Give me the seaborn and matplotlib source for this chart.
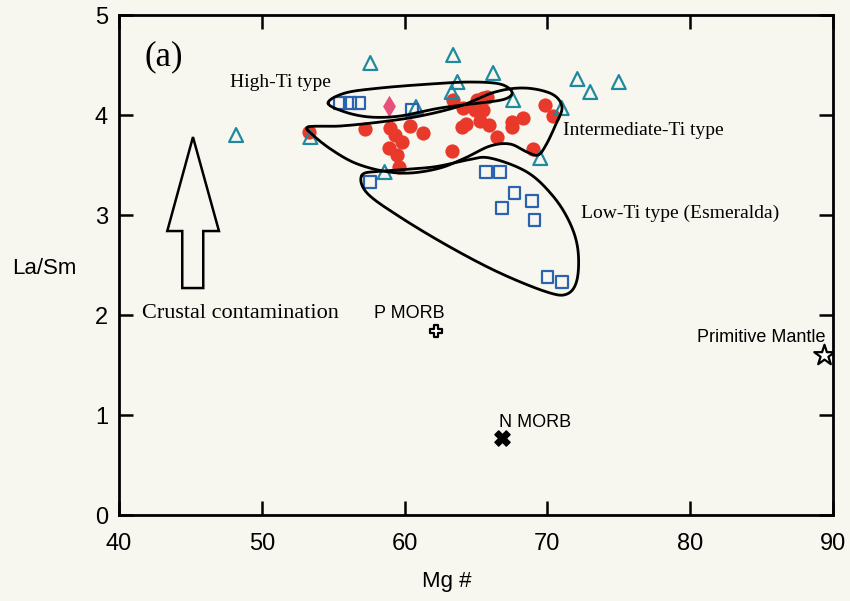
import numpy as np
import pandas as pd
import matplotlib
matplotlib.use("Agg")
import matplotlib.pyplot as plt
from matplotlib.patches import Polygon
import seaborn as sns

# ---- sample data: Mg# vs La/Sm ----
tri_mg = [48.2, 53.4, 57.6, 60.8, 58.6, 63.4, 63.7, 63.3, 66.2, 67.6, 69.5, 71.0, 72.1, 73.0, 75.0]
tri_lasm = [3.80, 3.78, 4.52, 4.08, 3.43, 4.60, 4.33, 4.23, 4.42, 4.15, 3.57, 4.07, 4.36, 4.23, 4.33]

sq_mg = [55.5, 56.2, 56.8, 60.5, 57.6, 65.7, 66.7, 67.7, 66.8, 68.9, 69.1, 70.0, 71.0]
sq_lasm = [4.12, 4.12, 4.12, 4.05, 3.33, 3.43, 3.43, 3.22, 3.07, 3.14, 2.95, 2.38, 2.33]

circ_mg = [53.3, 57.2, 59.0, 59.3, 59.8, 58.9, 59.5, 59.6, 60.4, 61.3, 63.3, 63.4, 64.1,
           64.0, 64.3, 65.1, 65.5, 65.8, 64.9, 65.5, 65.3, 65.9, 66.5, 67.5, 67.5, 68.3,
           69.8, 70.4, 69.0]
circ_lasm = [3.83, 3.86, 3.87, 3.80, 3.73, 3.67, 3.60, 3.48, 3.89, 3.82, 3.64, 4.15, 4.07,
             3.88, 3.91, 4.15, 4.17, 4.18, 4.05, 4.05, 3.94, 3.90, 3.78, 3.93, 3.88, 3.97,
             4.10, 3.99, 3.66]

dia_mg = [58.9]
dia_lasm = [4.09]

# reference compositions
ref_names = ["P MORB", "N MORB", "Primitive Mantle"]
ref_mg = [62.2, 66.8, 89.4]
ref_lasm = [1.84, 0.77, 1.60]

# ---- field outlines (Mg#, La/Sm) ----
high_ti_x = [54.64, 55.83, 58.28, 61.78, 64.58, 66.68, 67.52, 67.03, 65.28, 62.48, 59.68, 57.58, 55.83]
high_ti_y = [4.12, 4.22, 4.27, 4.31, 4.33, 4.31, 4.23, 4.16, 4.12, 4.07, 3.99, 3.98, 4.03]

inter_ti_x = [53.24, 55.48, 58.28, 61.08, 63.88, 66.33, 68.43, 70.32, 71.02, 70.60, 69.90, 69.34,
              68.57, 67.38, 65.98, 64.23, 62.48, 60.38, 58.49, 56.53, 54.92, 53.66]
inter_ti_y = [3.88, 3.89, 3.93, 3.99, 4.09, 4.23, 4.27, 4.21, 4.08, 3.91, 3.70, 3.60,
              3.63, 3.71, 3.69, 3.57, 3.47, 3.42, 3.44, 3.52, 3.65, 3.79]

low_ti_x = [57.02, 58.49, 61.99, 64.37, 65.98, 68.57, 70.39, 71.58, 72.14, 72.07, 71.37, 69.97,
            66.68, 63.18, 59.68, 57.37]
low_ti_y = [3.40, 3.44, 3.48, 3.55, 3.57, 3.43, 3.19, 2.92, 2.65, 2.35, 2.21, 2.23,
            2.42, 2.68, 2.98, 3.22]


def smooth_closed(xs, ys, n=40):
    """Closed Catmull-Rom curve through the given vertices."""
    p = np.column_stack([xs, ys]).astype(float)
    m = len(p)
    t = np.linspace(0, 1, n, endpoint=False)[:, None]
    segs = []
    for i in range(m):
        p0, p1, p2, p3 = p[i - 1], p[i], p[(i + 1) % m], p[(i + 2) % m]
        segs.append(0.5 * (2 * p1 + (-p0 + p2) * t
                           + (2 * p0 - 5 * p1 + 4 * p2 - p3) * t ** 2
                           + (-p0 + 3 * p1 - 3 * p2 + p3) * t ** 3))
    out = np.vstack(segs + [segs[0][:1]])
    return out[:, 0], out[:, 1]


sns.set_style("ticks")
plt.rcParams["font.family"] = ["Liberation Sans", "DejaVu Sans"]
plt.rcParams["text.color"] = "black"
plt.rcParams["axes.labelcolor"] = "black"

paper = "#f8f7ef"
fig = plt.figure(figsize=(8.5, 6.01), dpi=100, facecolor=paper)
ax = fig.add_axes([0.140, 0.143, 0.840, 0.832])
ax.set_facecolor(paper)

tri_df = pd.DataFrame({"Mg": tri_mg, "LaSm": tri_lasm})
sq_df = pd.DataFrame({"Mg": sq_mg, "LaSm": sq_lasm})
circ_df = pd.DataFrame({"Mg": circ_mg, "LaSm": circ_lasm})
dia_df = pd.DataFrame({"Mg": dia_mg, "LaSm": dia_lasm})

teal = "#1f8a9e"
blue = "#2b63b0"
red = "#e8392b"
pink = "#e8507c"

sns.scatterplot(data=circ_df, x="Mg", y="LaSm", ax=ax, marker="o", s=105,
                color=red, edgecolor=red, linewidth=0, zorder=3)
sns.scatterplot(data=tri_df, x="Mg", y="LaSm", ax=ax, marker="^", s=100,
                color=teal, facecolor="none", edgecolor=teal, linewidth=1.6, zorder=4)
sns.scatterplot(data=sq_df, x="Mg", y="LaSm", ax=ax, marker="s", s=72,
                color=blue, facecolor="none", edgecolor=blue, linewidth=1.6, zorder=4)
sns.scatterplot(data=dia_df, x="Mg", y="LaSm", ax=ax, marker="d", s=120,
                color=pink, edgecolor=pink, linewidth=0, zorder=4)

# field envelopes
for fx, fy in [(high_ti_x, high_ti_y), (inter_ti_x, inter_ti_y), (low_ti_x, low_ti_y)]:
    cx, cy = smooth_closed(fx, fy)
    ax.plot(cx, cy, color="black", lw=2.0, zorder=5)

# reference points
ax.scatter(ref_mg[0], ref_lasm[0], marker="P", s=85, facecolor="white",
           edgecolor="black", linewidth=1.6, zorder=6)
ax.scatter(ref_mg[1], ref_lasm[1], marker="X", s=120, color="black", zorder=6)
ax.scatter(ref_mg[2], ref_lasm[2], marker="*", s=240, facecolor="white",
           edgecolor="black", linewidth=1.6, zorder=6)

ax.text(ref_mg[0] - 1.9, ref_lasm[0] + 0.18, ref_names[0], fontsize=13,
        ha="center", va="center")
ax.text(ref_mg[1] - 0.2, ref_lasm[1] + 0.16, ref_names[1], fontsize=13,
        ha="left", va="center")
ax.text(ref_mg[2] + 0.1, ref_lasm[2] + 0.18, ref_names[2], fontsize=13,
        ha="right", va="center")

# crustal contamination arrow
arrow = Polygon([(45.18, 3.78), (47.0, 2.84), (45.9, 2.84), (45.9, 2.27),
                 (44.43, 2.27), (44.43, 2.84), (43.38, 2.84)],
                closed=True, facecolor="none", edgecolor="black", lw=1.8, zorder=5)
ax.add_patch(arrow)

serif = ["Liberation Serif", "DejaVu Serif"]
ax.text(41.8, 4.58, "(a)", family=serif, fontsize=25, ha="left", va="center")
ax.text(51.3, 4.33, "High-Ti type", family=serif, fontsize=14, ha="center", va="center")
ax.text(71.1, 3.85, "Intermediate-Ti type", family=serif, fontsize=14, ha="left", va="center")
ax.text(72.35, 3.02, "Low-Ti type (Esmeralda)", family=serif, fontsize=14, ha="left", va="center")
ax.text(41.6, 2.02, "Crustal contamination", family=serif, fontsize=16, ha="left", va="center")

ax.set_xlim(40, 90)
ax.set_ylim(0, 5)
ax.set_xticks(range(40, 91, 10))
ax.set_yticks(range(0, 6))
ax.tick_params(direction="in", length=10, width=1.8, top=True, right=True,
               labelsize=17, colors="black")
ax.tick_params(axis="x", pad=13)
ax.tick_params(axis="y", pad=8)
for sp in ax.spines.values():
    sp.set_linewidth(2.0)
    sp.set_color("black")

ax.set_xlabel("Mg #", fontsize=16, va="center")
ax.set_ylabel("La/Sm", fontsize=16, rotation=0, ha="center", va="center")
ax.xaxis.set_label_coords(0.459, -0.132)
ax.yaxis.set_label_coords(-0.105, 0.494)

fig.savefig("out.png", dpi=100, facecolor=paper)
